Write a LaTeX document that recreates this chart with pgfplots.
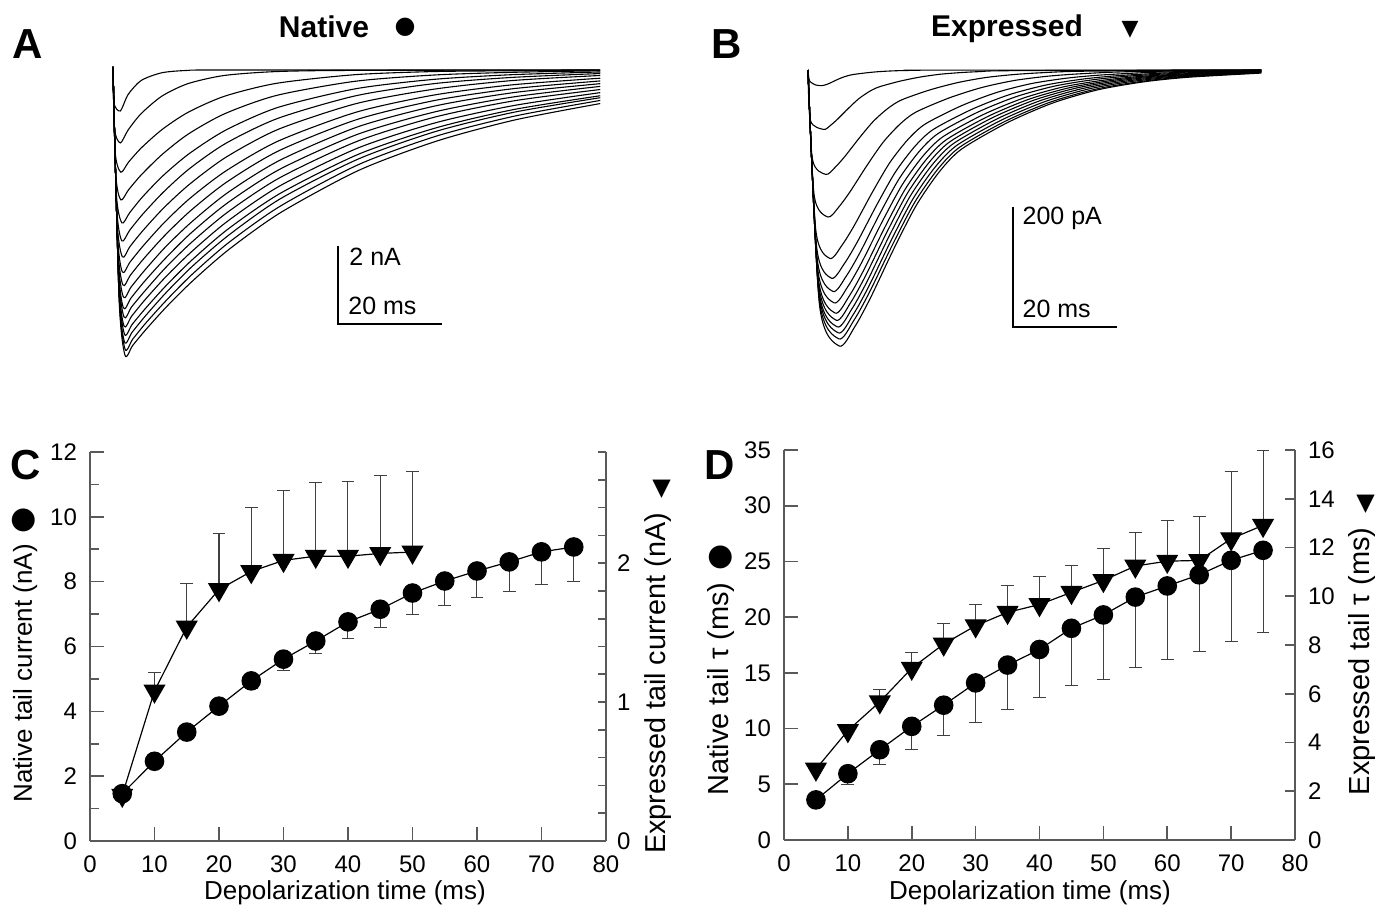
\documentclass[border=0pt]{standalone}
\usepackage{fontspec}
\setmainfont{Liberation Sans}
\newfontfamily\dejavu{DejaVu Sans}
\usepackage{graphicx}
\usepackage{pgfplots}
\pgfplotsset{compat=1.18}

\pgfplotsset{
 tr/.style={black, line width=0.55pt, smooth, tension=0.45, mark=none},
 base/.style={scale only axis, anchor=south west, clip=false, tick align=inside,
   axis line style={black!65, line width=0.9pt}, tick style={black!65, line width=0.8pt},
   tick label style={font=\fontsize{12}{14}\selectfont}, /pgf/number format/assume math mode=true},
 natline/.style={black, line width=0.6pt, mark=*, mark size=4.6pt, mark options={fill=black, solid}},
 expline/.style={black, line width=0.6pt, mark=triangle*, mark size=5.8pt, mark options={rotate=180, fill=black, solid}},
 ebar/.style={error bars/error bar style={black!75, line width=0.5pt}, error bars/error mark=-, error bars/error mark options={rotate=90, black!75, line width=0.5pt, mark size=3.2pt}},
}

\pgfplotstableread{
x y e
5 1.46 0
10 2.46 0
15 3.36 0
20 4.16 0.12
25 4.94 0.24
30 5.61 0.35
35 6.17 0.39
40 6.76 0.52
45 7.15 0.57
50 7.65 0.66
55 8.02 0.75
60 8.33 0.83
65 8.61 0.91
70 8.92 1.00
75 9.07 1.05
}\Cnat
\pgfplotstableread{
x y e
5 0.33 0
10 1.08 0.13
15 1.54 0.31
20 1.81 0.40
25 1.94 0.46
30 2.02 0.50
35 2.05 0.53
40 2.05 0.54
45 2.07 0.56
50 2.08 0.58
}\Cexp
\pgfplotstableread{
x y e
5 3.6 0
10 5.95 0.99
15 8.1 1.34
20 10.2 2.1
25 12.1 2.7
30 14.1 3.53
35 15.7 4.0
40 17.1 4.33
45 19.0 5.1
50 20.2 5.8
55 21.8 6.3
60 22.8 6.6
65 23.8 6.9
70 25.1 7.3
75 26.0 7.4
}\Dnat
\pgfplotstableread{
x y e
5 2.91 0
10 4.49 0
15 5.67 0.51
20 7.05 0.64
25 8.04 0.85
30 8.79 0.87
35 9.34 1.10
40 9.66 1.15
45 10.16 1.12
50 10.65 1.29
55 11.24 1.36
60 11.44 1.68
65 11.47 1.81
70 12.36 2.75
75 12.91 3.05
}\Dexp

\begin{document}
\begin{tikzpicture}
\path[use as bounding box] (0,0) rectangle (693pt,456pt);

% ---------------- Panel A : native traces ----------------
\begin{axis}[at={(56.5pt,265pt)}, anchor=south west, scale only axis, width=260pt, height=165.75pt,
  xmin=0, xmax=100, ymin=-8, ymax=0.5, hide axis, clip=false]
\addplot[tr] coordinates {(0,0.08) (0.17,-0.84) (1.4,-1.05) (2.9,-0.63) (5.4,-0.27) (9.4,-0.07) (14.4,-0.01) (21.4,0) (93.7,0)};
\addplot[tr] coordinates {(0,0.08) (0.30,-1.50) (1.4,-1.87) (2.9,-1.54) (5.4,-1.12) (9.4,-0.67) (14.4,-0.35) (21.4,-0.14) (31.4,-0.04) (46.4,-0.01) (93.7,0)};
\addplot[tr] coordinates {(0,0.08) (0.42,-2.10) (1.5,-2.62) (3.0,-2.36) (5.5,-1.99) (9.5,-1.52) (14.5,-1.08) (21.5,-0.67) (31.5,-0.34) (46.5,-0.12) (61.5,-0.04) (76.5,-0.02) (93.7,-0.01)};
\addplot[tr] coordinates {(0,0.08) (0.53,-2.66) (1.5,-3.33) (3.0,-3.07) (5.5,-2.68) (9.5,-2.16) (14.5,-1.64) (21.5,-1.12) (31.5,-0.65) (46.5,-0.29) (61.5,-0.13) (76.5,-0.06) (93.7,-0.02)};
\addplot[tr] coordinates {(0,0.08) (0.63,-3.14) (1.7,-3.92) (3.2,-3.66) (5.7,-3.25) (9.7,-2.70) (14.7,-2.14) (21.7,-1.54) (31.7,-0.96) (46.7,-0.48) (61.7,-0.24) (76.7,-0.12) (93.7,-0.05)};
\addplot[tr] coordinates {(0,0.08) (0.70,-3.50) (1.7,-4.38) (3.2,-4.11) (5.7,-3.70) (9.7,-3.13) (14.7,-2.53) (21.7,-1.88) (31.7,-1.24) (46.7,-0.66) (61.7,-0.35) (76.7,-0.19) (93.7,-0.09)};
\addplot[tr] coordinates {(0,0.08) (0.77,-3.83) (1.8,-4.79) (3.3,-4.52) (5.8,-4.11) (9.8,-3.53) (14.8,-2.92) (21.8,-2.23) (31.8,-1.52) (46.8,-0.86) (61.8,-0.49) (76.8,-0.27) (93.7,-0.14)};
\addplot[tr] coordinates {(0,0.08) (0.83,-4.14) (1.8,-5.18) (3.3,-4.92) (5.8,-4.51) (9.8,-3.92) (14.8,-3.29) (21.8,-2.58) (31.8,-1.82) (46.8,-1.08) (61.8,-0.64) (76.8,-0.38) (93.7,-0.21)};
\addplot[tr] coordinates {(0,0.08) (0.88,-4.41) (1.9,-5.51) (3.4,-5.25) (5.9,-4.84) (9.9,-4.25) (14.9,-3.61) (21.9,-2.87) (31.9,-2.07) (46.9,-1.27) (61.9,-0.78) (76.9,-0.48) (93.7,-0.28)};
\addplot[tr] coordinates {(0,0.08) (0.93,-4.66) (2.0,-5.82) (3.5,-5.56) (6.0,-5.15) (10.0,-4.55) (15.0,-3.91) (22.0,-3.15) (32.0,-2.32) (47.0,-1.46) (62.0,-0.92) (77.0,-0.58) (93.7,-0.35)};
\addplot[tr] coordinates {(0,0.08) (0.98,-4.88) (2.0,-6.10) (3.5,-5.84) (6.0,-5.43) (10.0,-4.84) (15.0,-4.18) (22.0,-3.41) (32.0,-2.55) (47.0,-1.65) (62.0,-1.07) (77.0,-0.69) (93.7,-0.42)};
\addplot[tr] coordinates {(0,0.08) (1.01,-5.06) (2.1,-6.33) (3.6,-6.07) (6.1,-5.67) (10.1,-5.07) (15.1,-4.42) (22.1,-3.64) (32.1,-2.76) (47.1,-1.82) (62.1,-1.20) (77.1,-0.79) (93.7,-0.50)};
\addplot[tr] coordinates {(0,0.08) (1.05,-5.25) (2.1,-6.56) (3.6,-6.31) (6.1,-5.90) (10.1,-5.31) (15.1,-4.66) (22.1,-3.87) (32.1,-2.97) (47.1,-2.00) (62.1,-1.35) (77.1,-0.91) (93.7,-0.58)};
\addplot[tr] coordinates {(0,0.08) (1.08,-5.42) (2.2,-6.77) (3.7,-6.52) (6.2,-6.12) (10.2,-5.53) (15.2,-4.87) (22.2,-4.07) (32.2,-3.16) (47.2,-2.16) (62.2,-1.48) (77.2,-1.01) (93.7,-0.66)};
\addplot[tr] coordinates {(0,0.08) (1.12,-5.58) (2.2,-6.97) (3.7,-6.72) (6.2,-6.31) (10.2,-5.71) (15.2,-5.04) (22.2,-4.24) (32.2,-3.30) (47.2,-2.28) (62.2,-1.57) (77.2,-1.08) (93.7,-0.71)};
\addplot[tr] coordinates {(0,0.08) (1.14,-5.72) (2.3,-7.15) (3.8,-6.90) (6.3,-6.49) (10.3,-5.90) (15.3,-5.23) (22.3,-4.42) (32.3,-3.48) (47.3,-2.42) (62.3,-1.69) (77.3,-1.18) (93.7,-0.78)};
\addplot[tr] coordinates {(0,0.08) (1.17,-5.85) (2.3,-7.31) (3.8,-7.06) (6.3,-6.66) (10.3,-6.07) (15.3,-5.41) (22.3,-4.60) (32.3,-3.65) (47.3,-2.57) (62.3,-1.82) (77.3,-1.28) (93.7,-0.86)};
\addplot[black, line width=0.8pt] coordinates {(43.3,-4.51) (43.3,-6.51) (63.3,-6.51)};
\node[anchor=west, font=\fontsize{12.5}{14}\selectfont, inner sep=0pt] at (axis cs:45.4,-4.79) {2 nA};
\node[anchor=west, font=\fontsize{12.5}{14}\selectfont, inner sep=0pt] at (axis cs:45.2,-6.05) {20 ms};
\end{axis}

% ---------------- Panel B : expressed traces ----------------
\begin{axis}[at={(404pt,271pt)}, anchor=south west, scale only axis, width=260pt, height=159pt,
  xmin=0, xmax=100, ymin=-500, ymax=30, hide axis, clip=false]
\addplot[tr] coordinates {(0,0) (0.3,-18) (1.5,-25) (2.8,-26) (3.55,-24.2) (4.3,-21.5) (5.43,-16.8) (6.5,-12.8) (7.6,-9.6) (8.7,-7.5) (10.9,-5.0) (13.05,-3.1) (15.2,-1.9) (17.4,-1.1) (19.6,-0.7) (23.1,-0.3) (87.2,0)};
\addplot[tr] coordinates {(0,0) (0.47,-84) (3.0,-99) (4.35,-92.1) (5.7,-81.8) (7.73,-64.2) (9.66,-48.6) (11.64,-36.6) (13.58,-28.4) (17.54,-18.9) (21.45,-11.9) (25.37,-7.1) (29.33,-4.3) (33.24,-2.6) (39.54,-1.1) (87.2,0)};
\addplot[tr] coordinates {(0,0) (0.83,-148) (3.4,-174) (5.26,-161.8) (7.12,-143.7) (9.91,-112.8) (12.58,-85.4) (15.3,-64.4) (17.97,-49.9) (23.43,-33.2) (28.82,-20.9) (34.21,-12.5) (39.67,-7.5) (45.06,-4.5) (53.74,-1.9) (87.2,0)};
\addplot[tr] coordinates {(0,0) (1.17,-208) (3.8,-245) (5.96,-227.9) (8.12,-202.4) (11.36,-158.8) (14.46,-120.3) (17.62,-90.7) (20.72,-70.3) (27.06,-46.8) (33.32,-29.4) (39.58,-17.6) (45.92,-10.5) (52.18,-6.4) (62.26,-2.7) (87.2,-0.3)};
\addplot[tr] coordinates {(0,0) (1.5,-267) (4.2,-314) (6.54,-292.0) (8.88,-259.4) (12.39,-203.5) (15.74,-154.2) (19.18,-116.2) (22.53,-90.1) (29.39,-60.0) (36.18,-37.7) (42.97,-22.6) (49.83,-13.5) (56.62,-8.2) (67.54,-3.5) (87.2,-0.6)};
\addplot[tr] coordinates {(0,0) (1.66,-295) (4.5,-347) (6.99,-322.7) (9.48,-286.6) (13.22,-224.9) (16.78,-170.4) (20.44,-128.4) (24.0,-99.6) (31.31,-66.3) (38.53,-41.6) (45.75,-25.0) (53.06,-14.9) (60.28,-9.0) (71.9,-3.8) (87.2,-1.0)};
\addplot[tr] coordinates {(0,0) (1.76,-314) (4.8,-369) (7.38,-343.2) (9.96,-304.8) (13.83,-239.1) (17.53,-181.2) (21.31,-136.5) (25.01,-105.9) (32.58,-70.5) (40.06,-44.3) (47.54,-26.6) (55.11,-15.9) (62.59,-9.6) (74.63,-4.1) (87.2,-1.4)};
\addplot[tr] coordinates {(0,0) (1.85,-330) (5.0,-388) (7.67,-360.8) (10.34,-320.5) (14.35,-251.4) (18.17,-190.5) (22.09,-143.6) (25.92,-111.4) (33.75,-74.1) (41.49,-46.6) (49.23,-27.9) (57.07,-16.7) (64.81,-10.1) (77.27,-4.3) (87.2,-1.8)};
\addplot[tr] coordinates {(0,0) (1.93,-344) (5.2,-405) (7.93,-376.7) (10.66,-334.5) (14.76,-262.4) (18.67,-198.9) (22.67,-149.9) (26.59,-116.2) (34.59,-77.4) (42.51,-48.6) (50.43,-29.2) (58.44,-17.4) (66.35,-10.5) (79.09,-4.5) (87.2,-2.3)};
\addplot[tr] coordinates {(0,0) (1.99,-354) (5.4,-417) (8.19,-387.8) (10.98,-344.4) (15.17,-270.2) (19.16,-204.7) (23.26,-154.3) (27.26,-119.7) (35.44,-79.6) (43.53,-50.0) (51.62,-30.0) (59.81,-17.9) (67.9,-10.8) (80.92,-4.6) (87.2,-2.8)};
\addplot[tr] coordinates {(0,0) (2.04,-364) (5.6,-428) (8.45,-398.0) (11.3,-353.5) (15.58,-277.3) (19.66,-210.1) (23.84,-158.4) (27.93,-122.8) (36.29,-81.7) (44.55,-51.4) (52.82,-30.8) (61.18,-18.4) (69.44,-11.1) (82.74,-4.7) (87.2,-3.3)};
\addplot[tr] coordinates {(0,0) (2.09,-372) (5.8,-438) (8.71,-407.3) (11.62,-361.8) (15.99,-283.8) (20.16,-215.1) (24.42,-162.1) (28.6,-125.7) (37.13,-83.7) (45.57,-52.6) (54.01,-31.5) (62.55,-18.8) (70.98,-11.4) (84.56,-4.8) (87.2,-4.1)};
\addplot[tr] coordinates {(0,0) (2.14,-381) (5.9,-448) (8.87,-416.6) (11.84,-370.0) (16.3,-290.3) (20.55,-220.0) (24.91,-165.8) (29.17,-128.6) (37.88,-85.6) (46.49,-53.8) (55.1,-32.3) (63.82,-19.3) (72.43,-11.6) (86.29,-4.9)};
\addplot[tr] coordinates {(0,0) (2.2,-391) (6.0,-460) (9.0,-427.8) (12.0,-380.0) (16.5,-298.1) (20.8,-225.9) (25.2,-170.2) (29.5,-132.0) (38.3,-87.9) (47.0,-55.2) (55.7,-33.1) (64.5,-19.8) (73.2,-12.0) (87.2,-5.1)};
\addplot[black, line width=0.8pt] coordinates {(39.4,-228) (39.4,-428) (59.4,-428)};
\node[anchor=west, font=\fontsize{12.5}{14}\selectfont, inner sep=0pt] at (axis cs:41.2,-247) {200 pA};
\node[anchor=west, font=\fontsize{12.5}{14}\selectfont, inner sep=0pt] at (axis cs:41.2,-398) {20 ms};
\end{axis}

% ---------------- Panel C ----------------
\begin{axis}[base, at={(45pt,35.5pt)}, width=258pt, height=194.5pt,
  xmin=0, xmax=80, ymin=0, ymax=2.8,
  axis x line=none, axis y line*=right,
  ytick={0,1,2}, minor ytick={0.2,0.4,0.6,0.8,1.2,1.4,1.6,1.8,2.2,2.4,2.6,2.8},
  major tick length=4pt, minor tick length=4pt,
  yticklabel style={xshift=2pt}]
\addplot[expline, ebar, error bars/.cd, y dir=plus, y explicit] table[x=x, y=y, y error=e] {\Cexp};
\end{axis}
\begin{axis}[base, at={(45pt,35.5pt)}, width=258pt, height=194.5pt,
  xmin=0, xmax=80, ymin=0, ymax=12,
  axis x line*=bottom, axis y line*=left,
  xtick={0,10,...,80}, ytick={0,2,...,12}, minor ytick={1,3,...,11},
  major tick length=7pt, minor tick length=4.5pt,
  xticklabel style={yshift=-4pt}, yticklabel style={xshift=-3pt}]
\addplot[natline, ebar, error bars/.cd, y dir=minus, y explicit] table[x=x, y=y, y error=e] {\Cnat};
\end{axis}

% ---------------- Panel D ----------------
\begin{axis}[base, at={(392pt,36pt)}, width=255.5pt, height=195pt,
  xmin=0, xmax=80, ymin=0, ymax=35,
  axis x line*=bottom, axis y line*=left,
  xtick={0,10,...,80}, ytick={0,5,...,35},
  major tick length=7pt,
  xticklabel style={yshift=-4pt}, yticklabel style={xshift=-3pt}]
\addplot[natline, ebar, error bars/.cd, y dir=minus, y explicit] table[x=x, y=y, y error=e] {\Dnat};
\end{axis}
\begin{axis}[base, at={(392pt,36pt)}, width=255.5pt, height=195pt,
  xmin=0, xmax=80, ymin=0, ymax=16,
  axis x line=none, axis y line*=right,
  ytick={0,2,...,16},
  major tick length=5pt,
  yticklabel style={xshift=3pt}]
\addplot[expline, ebar, error bars/.cd, y dir=plus, y explicit] table[x=x, y=y, y error=e] {\Dexp};
\end{axis}

% ---------------- Titles and labels ----------------
\node[font=\bfseries\fontsize{21}{24}\selectfont] at (14pt,434pt) {A};
\node[font=\bfseries\fontsize{21}{24}\selectfont] at (363.5pt,434pt) {B};
\node[font=\bfseries\fontsize{21}{24}\selectfont] at (13pt,223.5pt) {C};
\node[font=\bfseries\fontsize{21}{24}\selectfont] at (360pt,223.5pt) {D};
\node[font=\bfseries\fontsize{15}{18}\selectfont] at (162pt,442.5pt) {Native};
\node[font=\dejavu\fontsize{12}{14}\selectfont] at (202.5pt,442.5pt) {●};
\node[font=\bfseries\fontsize{15}{18}\selectfont] at (503.5pt,441.5pt) {Expressed};
\node[font=\dejavu\fontsize{11}{13}\selectfont] at (565pt,441pt) {▼};

\node[font=\fontsize{13}{15}\selectfont] at (172.5pt,9.5pt) {Depolarization time (ms)};
\node[font=\fontsize{13}{15}\selectfont] at (515pt,9.5pt) {Depolarization time (ms)};
\node[rotate=90, font=\fontsize{13}{15}\selectfont] at (12.5pt,128.5pt) {Native tail current (nA)\hspace{0.4em}{\dejavu\fontsize{15}{15}\selectfont ●}};
\node[rotate=90, font=\fontsize{14.4}{16}\selectfont] at (329pt,122.5pt) {Expressed tail current (nA)\hspace{0.5em}\raisebox{0.45em}{\rotatebox{-90}{\dejavu\fontsize{12}{12}\selectfont ▼}}};
\node[rotate=90, font=\fontsize{14.5}{16}\selectfont] at (360.5pt,121pt) {Native tail τ (ms)\hspace{0.4em}{\dejavu\fontsize{15}{15}\selectfont ●}};
\node[rotate=90, font=\fontsize{14.5}{16}\selectfont] at (681pt,133.5pt) {Expressed tail τ (ms)\hspace{0.5em}\raisebox{0.45em}{\rotatebox{-90}{\dejavu\fontsize{12}{12}\selectfont ▼}}};
\end{tikzpicture}
\end{document}
